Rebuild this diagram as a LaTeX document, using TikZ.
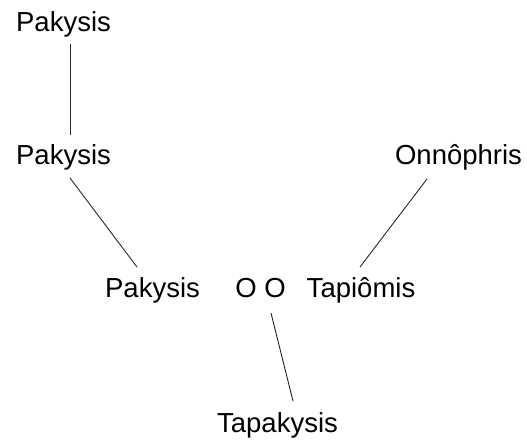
\documentclass[tikz,border=0pt]{standalone}
\usepackage{fontspec}
\setmainfont{Liberation Sans}
\usetikzlibrary{calc}
\begin{document}
\begin{tikzpicture}[x=1pt,y=-1pt,
  lbl/.style={anchor=base,inner sep=0pt,font=\fontsize{27.5}{33}\selectfont},
  conn/.style={draw=black!85,line width=0.9pt}]
\useasboundingbox (0,0) rectangle (527,446);
\node[lbl] (p1) at (63.5,32) {Pakysis};
\node[lbl] (p2) at (63.5,165) {Pakysis};
\node[lbl] (p3) at (152.5,298) {Pakysis};
\node[lbl] (oo) at (260.5,298) {O O};
\node[lbl] (ta) at (361,298) {Tapiômis};
\node[lbl] (on) at (458.5,165) {Onnôphris};
\node[lbl] (tk) at (277.5,432) {Tapakysis};
\draw[conn] ($(p1.base)+(7.2,12)$) -- ($(p2.base)+(7.2,-30)$);
\draw[conn] ($(p2.base)+(6.5,13)$) -- ($(p3.base)+(-15.5,-31)$);
\draw[conn] ($(on.base)+(-31.5,14)$) -- ($(ta.base)+(-1,-31)$);
\draw[conn] ($(oo.base)+(10.5,15)$) -- ($(tk.base)+(15.5,-31)$);
\end{tikzpicture}
\end{document}
